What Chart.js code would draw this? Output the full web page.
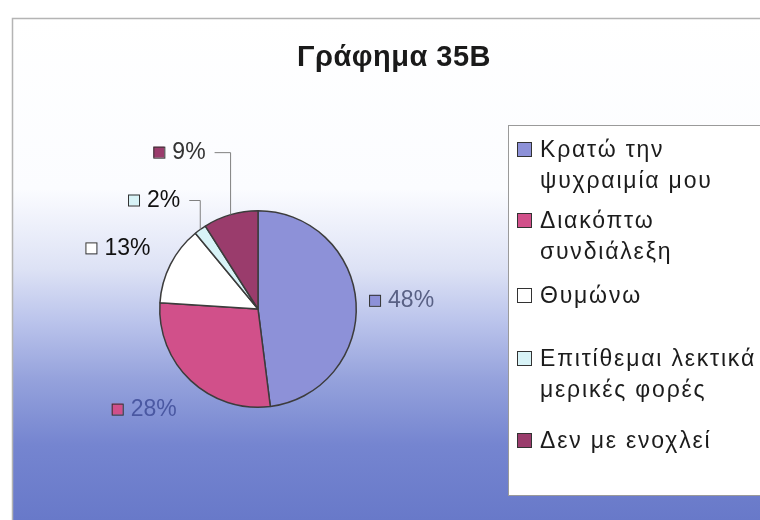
<!DOCTYPE html>
<html>
<head>
<meta charset="utf-8">
<script src="https://cdn.jsdelivr.net/npm/chart.js@4.4.0/dist/chart.umd.min.js"></script>
<style>
  html, body { margin: 0; padding: 0; background: #fff; }
  canvas { display: block; }
</style>
</head>
<body>
<canvas id="grafima" width="760" height="520"></canvas>
<script>
const titlos = 'Γράφημα 35Β';
const katigories = [
  ['Κρατώ την', 'ψυχραιμία μου'],
  ['Διακόπτω', 'συνδιάλεξη'],
  ['Θυμώνω'],
  ['Επιτίθεμαι λεκτικά', 'μερικές φορές'],
  ['Δεν με ενοχλεί']
];
const pososta = [48, 28, 13, 2, 9];

const xromata = ['#8d91d8', '#d1508a', '#ffffff', '#d8f3f7', '#9a3c6c'];
// percentage labels: offset from the outer middle of each slice
const thesiEtiketas = [
  { dx: 13, dy: -2 },
  { dx: -14, dy: 29 },
  { dx: -20, dy: -16 },
  { dx: -20, dy: -29, grammi: true },
  { dx: -25, dy: -62, grammi: true }
];
const xromaKeimenou = ['#596185', '#4a58a2', '#111111', '#111111', '#333333'];
// baseline of the first line of each legend entry
const legendGrammes = [157, 228, 303, 366, 448];

const fonto = '"Liberation Sans", Arial, sans-serif';

const fontoPlugin = {
  id: 'fonto',
  beforeDraw(chart) {
    const ctx = chart.ctx;
    ctx.save();
    ctx.fillStyle = '#ffffff';
    ctx.fillRect(0, 0, 760, 520);
    const g = ctx.createLinearGradient(0, 18, 0, 520);
    g.addColorStop(0, '#ffffff');
    g.addColorStop(0.34, '#fbfcff');
    g.addColorStop(0.5, '#dde2f5');
    g.addColorStop(0.6, '#bcc5ec');
    g.addColorStop(0.72, '#95a2dc');
    g.addColorStop(0.85, '#7585d0');
    g.addColorStop(1, '#6879c9');
    ctx.fillStyle = g;
    ctx.fillRect(12, 18, 748, 502);
    ctx.strokeStyle = '#b4b4b4';
    ctx.lineWidth = 1.5;
    ctx.beginPath();
    ctx.moveTo(12.5, 520);
    ctx.lineTo(12.5, 18.5);
    ctx.lineTo(760, 18.5);
    ctx.stroke();

    ctx.fillStyle = '#1a1a1a';
    ctx.font = 'bold 29px ' + fonto;
    ctx.textAlign = 'center';
    ctx.textBaseline = 'alphabetic';
    ctx.letterSpacing = '0.5px';
    ctx.fillText(titlos, 394, 66);
    ctx.restore();
  }
};

const etiketesPlugin = {
  id: 'etiketes',
  afterDatasetsDraw(chart) {
    const ctx = chart.ctx;
    const meta = chart.getDatasetMeta(0);
    ctx.save();
    ctx.font = '23px ' + fonto;
    ctx.textBaseline = 'middle';
    meta.data.forEach((arc, i) => {
      const p = arc.getProps(['x', 'y', 'startAngle', 'endAngle', 'outerRadius'], true);
      const mid = (p.startAngle + p.endAngle) / 2;
      const px = p.x + Math.cos(mid) * p.outerRadius;
      const py = p.y + Math.sin(mid) * p.outerRadius;
      const th = thesiEtiketas[i];
      const ax = px + th.dx;
      const ay = py + th.dy;
      const keimeno = pososta[i] + '%';
      const w = ctx.measureText(keimeno).width;
      let tetragono, arxi;
      if (th.dx > 0) {
        tetragono = ax;
        arxi = ax + 19;
      } else {
        arxi = ax - w;
        tetragono = arxi - 19;
      }
      if (th.grammi) {
        ctx.strokeStyle = '#808080';
        ctx.lineWidth = 1;
        ctx.beginPath();
        ctx.moveTo(px, py);
        ctx.lineTo(px, ay);
        ctx.lineTo(ax + 9, ay);
        ctx.stroke();
      }
      ctx.fillStyle = xromata[i];
      ctx.fillRect(tetragono, ay - 6, 11, 11);
      ctx.strokeStyle = '#333';
      ctx.lineWidth = 1;
      ctx.strokeRect(tetragono + 0.5, ay - 5.5, 11, 11);
      ctx.fillStyle = xromaKeimenou[i];
      ctx.textAlign = 'left';
      ctx.fillText(keimeno, arxi, ay);
    });
    ctx.restore();
  }
};

const ypomnimaPlugin = {
  id: 'ypomnima',
  afterDraw(chart) {
    const ctx = chart.ctx;
    ctx.save();
    ctx.fillStyle = '#ffffff';
    ctx.fillRect(508, 125, 260, 370);
    ctx.strokeStyle = '#9a9a9a';
    ctx.lineWidth = 1;
    ctx.strokeRect(508.5, 125.5, 260, 370);
    ctx.font = '23px ' + fonto;
    ctx.letterSpacing = '1.8px';
    ctx.textAlign = 'left';
    ctx.textBaseline = 'alphabetic';
    chart.data.labels.forEach((lbl, i) => {
      const y0 = legendGrammes[i];
      ctx.fillStyle = xromata[i];
      ctx.fillRect(517, y0 - 15, 15, 15);
      ctx.strokeStyle = '#333';
      ctx.strokeRect(517.5, y0 - 14.5, 14, 14);
      ctx.fillStyle = '#1c1c1c';
      lbl.forEach((line, k) => ctx.fillText(line, 540, y0 + k * 31));
    });
    ctx.restore();
  }
};

new Chart(document.getElementById('grafima'), {
  type: 'pie',
  data: {
    labels: katigories,
    datasets: [{
      data: pososta,
      backgroundColor: xromata,
      borderColor: '#3c3c3c',
      borderWidth: 1.5
    }]
  },
  options: {
    responsive: false,
    animation: false,
    devicePixelRatio: 1,
    layout: { padding: { left: 159, right: 403, top: 210, bottom: 112 } },
    plugins: {
      legend: { display: false },
      title: { display: false },
      tooltip: { enabled: false }
    }
  },
  plugins: [fontoPlugin, etiketesPlugin, ypomnimaPlugin]
});
</script>
</body>
</html>
